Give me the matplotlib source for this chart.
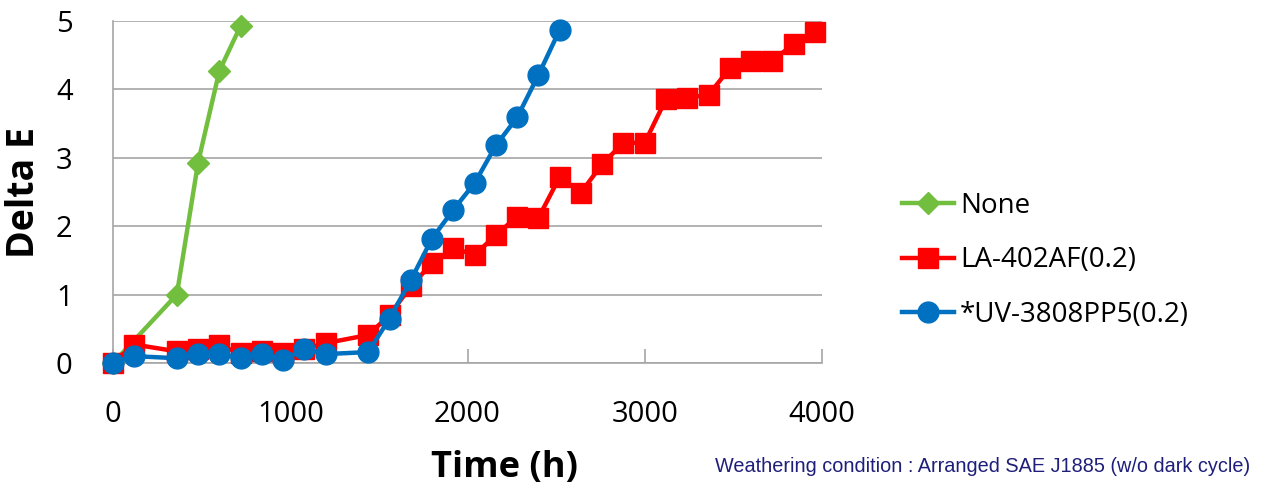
import matplotlib
matplotlib.use("Agg")
import matplotlib.pyplot as plt

# weathering data
none_t = [0, 360, 480, 600, 720]
none_de = [0.0, 1.0, 2.93, 4.27, 4.93]

la_t = [0, 120, 360, 480, 600, 720, 840, 960, 1080, 1200, 1440, 1560, 1680,
        1800, 1920, 2040, 2160, 2280, 2400, 2520, 2640, 2760, 2880, 3000,
        3120, 3240, 3360, 3480, 3600, 3720, 3840, 3960]
la_de = [0.0, 0.27, 0.17, 0.21, 0.26, 0.14, 0.17, 0.14, 0.21, 0.29, 0.41,
         0.70, 1.12, 1.46, 1.68, 1.58, 1.87, 2.14, 2.12, 2.72, 2.49, 2.91,
         3.22, 3.22, 3.86, 3.88, 3.92, 4.31, 4.41, 4.41, 4.67, 4.84]

uv_t = [0, 120, 360, 480, 600, 720, 840, 960, 1080, 1200, 1440, 1560, 1680,
        1800, 1920, 2040, 2160, 2280, 2400, 2520]
uv_de = [0.0, 0.10, 0.07, 0.13, 0.13, 0.07, 0.13, 0.04, 0.21, 0.13, 0.16,
         0.65, 1.21, 1.82, 2.24, 2.63, 3.18, 3.59, 4.21, 4.87]

labels = ["None", "LA-402AF(0.2)", "*UV-3808PP5(0.2)"]
x_ticks = [0, 1000, 2000, 3000, 4000]
y_ticks = [0, 1, 2, 3, 4, 5]

green = "#72bf3f"
red = "#ff0000"
blue = "#0070c0"
grid_c = "#a6a6a6"

plt.rcParams['font.family'] = ['Open Sans', 'DejaVu Sans']

fig = plt.figure(figsize=(12.69, 4.88), dpi=100)
ax = fig.add_axes([113/1269, 1 - 363/488, (822 - 113)/1269, (363 - 21)/488])

ax.plot(none_t, none_de, color=green, lw=3.2, marker="D", ms=11,
        label=labels[0], clip_on=False, zorder=3)
ax.plot(la_t, la_de, color=red, lw=3.2, marker="s", ms=14,
        label=labels[1], clip_on=False, zorder=4)
ax.plot(uv_t, uv_de, color=blue, lw=3.2, marker="o", ms=15,
        label=labels[2], clip_on=False, zorder=5)

ax.set_xlim(0, 4000)
ax.set_ylim(0, 5)
ax.set_xticks(x_ticks)
ax.set_yticks(y_ticks)
ax.tick_params(axis="x", direction="in", length=10, width=1.2, color=grid_c,
               pad=27, labelsize=21)
ax.tick_params(axis="y", length=0, pad=29, labelsize=21)
ax.yaxis.grid(True, color=grid_c, lw=1.2)
ax.set_axisbelow(True)
for s in ["top", "right"]:
    ax.spines[s].set_visible(False)
for s in ["left", "bottom"]:
    ax.spines[s].set_color(grid_c)
    ax.spines[s].set_linewidth(1.2)

ax.set_ylabel("Delta E", fontsize=27, fontweight="bold")
ax.yaxis.set_label_coords(-0.099, 0.5)
ax.set_xlabel("Time (h)", fontsize=26, fontweight="bold")
ax.xaxis.set_label_coords(0.552, -0.255)

leg = ax.legend(loc="center left", bbox_to_anchor=(1.077, 0.30), frameon=False,
                fontsize=20, handlelength=1.9, handletextpad=0.2,
                labelspacing=0.95)

fig.text(0.985, 0.045, "Weathering condition : Arranged SAE J1885 (w/o dark cycle)",
         family="Liberation Sans", fontsize=14.3, color="#1f1f7a", ha="right",
         va="center")

fig.savefig("out.png", dpi=100)
